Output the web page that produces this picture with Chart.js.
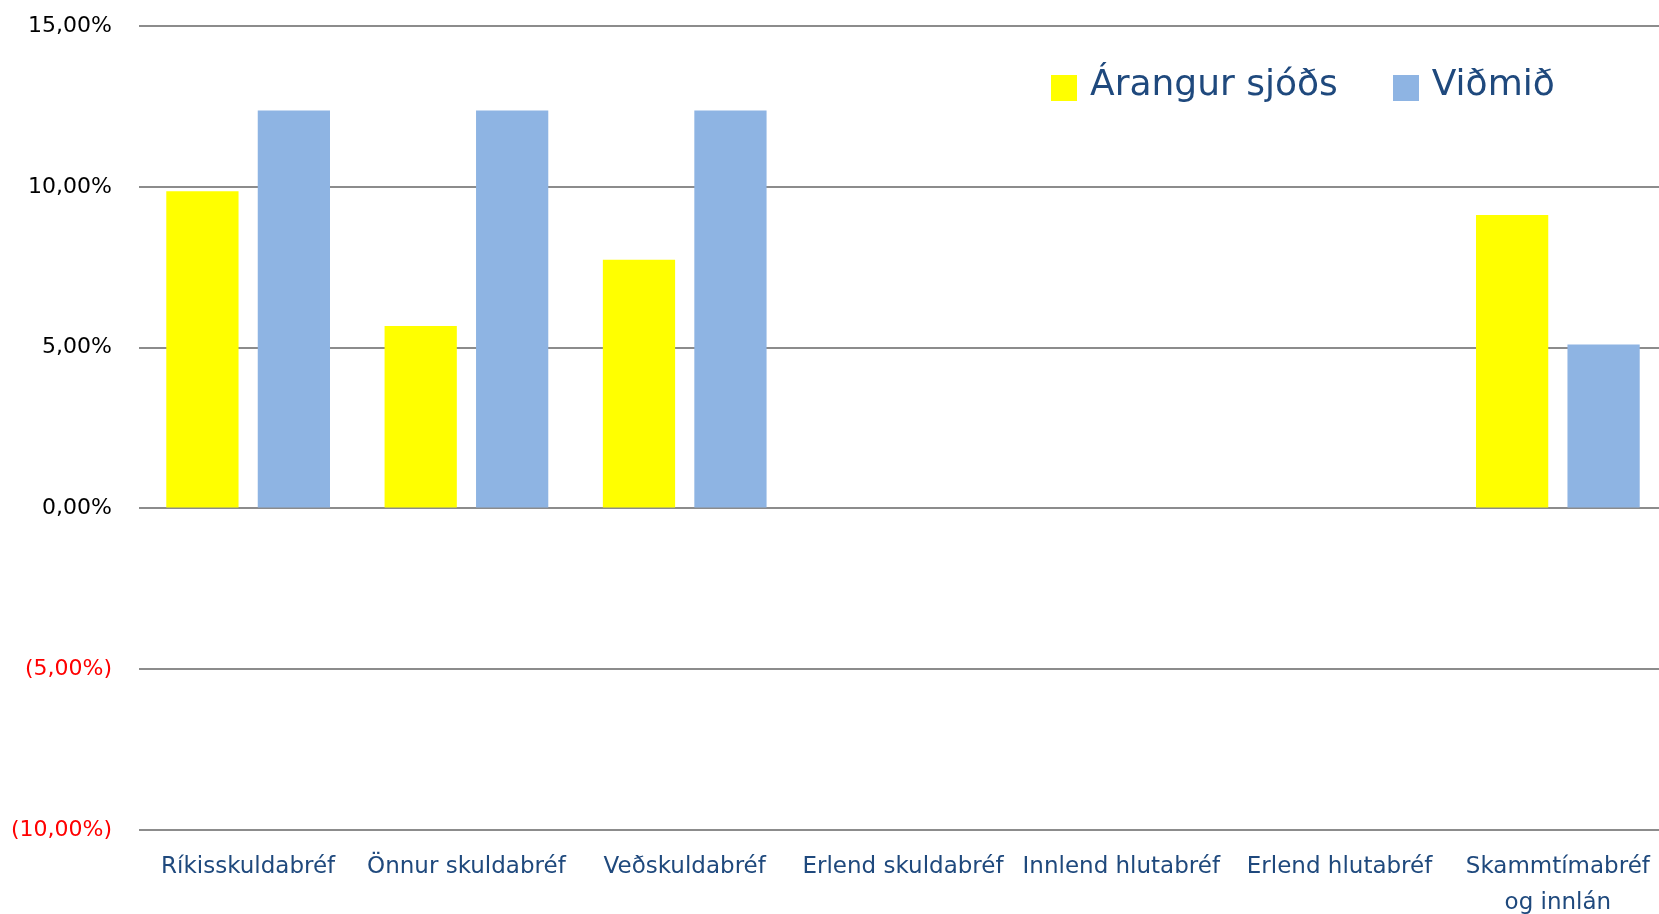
<!DOCTYPE html>
<html>
<head>
<meta charset="utf-8">
<script src="https://cdn.jsdelivr.net/npm/chart.js@4/dist/chart.umd.min.js"></script>
<style>
  html, body { margin: 0; padding: 0; background: #fff; overflow: hidden; }
  #wrap { position: relative; width: 1659px; height: 914px; overflow: hidden; }
  #barChart { display: block; }
  #legend {
    position: absolute; left: 1051px; top: 62px;
    display: flex; align-items: center;
    font-family: 'DejaVu Sans', sans-serif; font-size: 36px; color: #1F497D;
  }
  #legend .item { display: flex; align-items: center; margin-right: 55px; }
  #legend .box { width: 26px; height: 26px; margin-right: 13px; margin-top: 11px; }
</style>
</head>
<body>
<div id="wrap">
  <!-- striginn er aðeins breiðari en glugginn: teikniflöturinn nær út fyrir hægri brún eins og í fyrirmyndinni -->
  <canvas id="barChart" width="1667" height="914"></canvas>
  <div id="legend"></div>
</div>
<script>
// flokkar og gildi
const categories = [
  'Ríkisskuldabréf',
  'Önnur skuldabréf',
  'Veðskuldabréf',
  'Erlend skuldabréf',
  'Innlend hlutabréf',
  'Erlend hlutabréf',
  ['Skammtímabréf', 'og innlán']
];
const arangur = [9.86, 5.67, 7.73, 0, 0, 0, 9.12];
const vidmid = [12.37, 12.37, 12.37, 0, 0, 0, 5.10];
const seriesNames = ['Árangur sjóðs', 'Viðmið'];
const yMin = -10, yMax = 15, yStep = 5;

const textBlue = '#1F497D';
const clear = 'rgba(0,0,0,0)';

function fmt(v) {
  const s = Math.abs(v).toFixed(2).replace('.', ',') + '%';
  return v < 0 ? '(' + s + ')' : s;
}

window.addEventListener('DOMContentLoaded', () => {
  const ctx = document.getElementById('barChart');
  const chart = new Chart(ctx, {
    type: 'bar',
    data: {
      labels: categories,
      datasets: [
        { label: seriesNames[0], data: arangur, backgroundColor: '#FFFF00' },
        { label: seriesNames[1], data: vidmid, backgroundColor: '#8EB4E3' }
      ]
    },
    options: {
      responsive: false,
      animation: false,
      categoryPercentage: 0.838,
      barPercentage: 0.79,
      layout: { padding: { top: 26, right: 0, left: 0, bottom: 0 } },
      plugins: {
        legend: { display: false },
        tooltip: { enabled: false }
      },
      scales: {
        x: {
          // ósýnilegt tick-bil í stað padding svo hægri brún haldist
          grid: { display: true, drawOnChartArea: false, drawTicks: true, tickLength: 19, color: clear, tickColor: clear },
          border: { display: false },
          ticks: {
            color: textBlue,
            autoSkip: false,
            maxRotation: 0,
            padding: 0,
            font: { family: 'DejaVu Sans', size: 23, lineHeight: 1.565 }
          },
          afterFit: scale => { scale.height = 84; }
        },
        y: {
          min: yMin,
          max: yMax,
          grid: { color: '#8c8c8c', lineWidth: 2, drawTicks: true, tickLength: 27, tickColor: clear },
          border: { display: false },
          ticks: {
            stepSize: yStep,
            padding: 0,
            color: c => (c.tick && c.tick.value < 0 ? '#FF0000' : '#000000'),
            font: { family: 'DejaVu Sans', size: 22 },
            callback: v => fmt(v)
          },
          afterFit: scale => { scale.width = 139; }
        }
      }
    }
  });

  // legenda inni í teikningunni
  const legend = document.getElementById('legend');
  chart.data.datasets.forEach(ds => {
    const item = document.createElement('div');
    item.className = 'item';
    item.innerHTML = '<span class="box" style="background:' + ds.backgroundColor + '"></span><span>' + ds.label + '</span>';
    legend.appendChild(item);
  });
});
</script>
</body>
</html>
